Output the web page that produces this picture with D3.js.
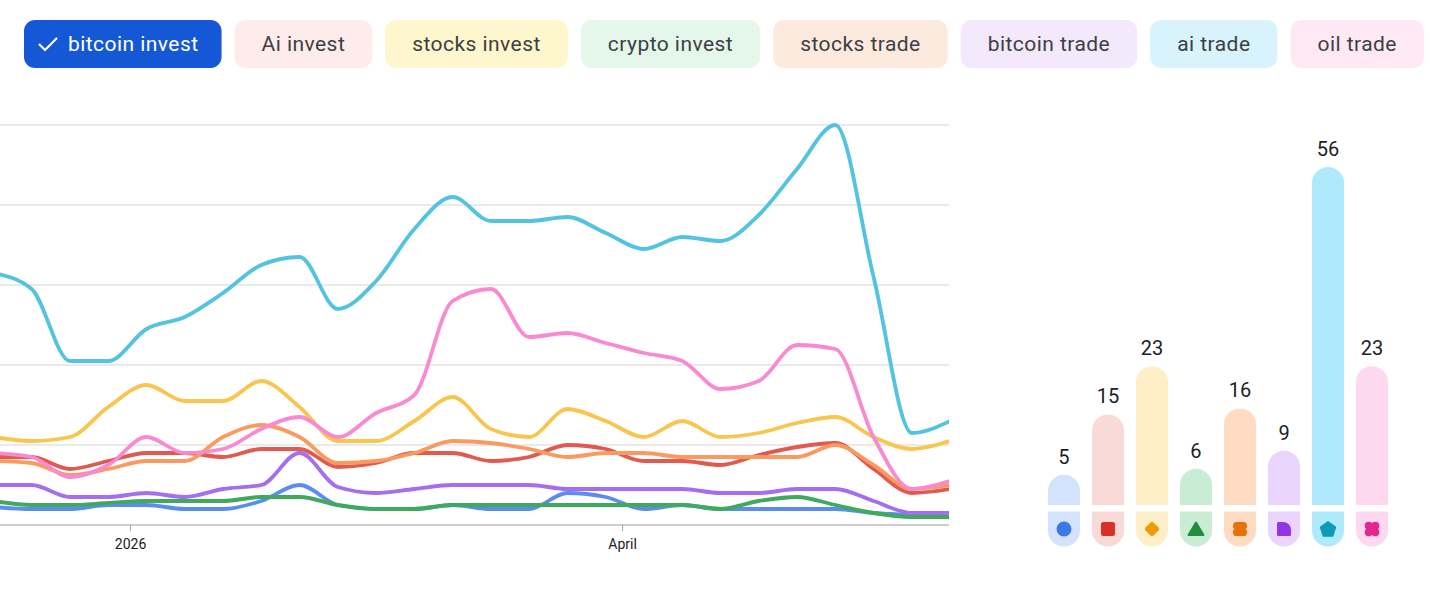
<!DOCTYPE html>
<html>
<head>
<meta charset="utf-8">
<script src="https://cdn.jsdelivr.net/npm/d3@7"></script>
<style>
  body { margin: 0; background: #fff; }
  svg { display: block; font-family: Roboto, "Noto Sans", sans-serif; }
</style>
</head>
<body>
<div id="chart"></div>
<script>
// Data
const terms = ["bitcoin invest", "Ai invest", "stocks invest", "crypto invest",
               "stocks trade", "bitcoin trade", "ai trade", "oil trade"];
const averages = [5, 15, 23, 6, 16, 9, 56, 23];

const weeks = ["2025-12-07", "2025-12-14", "2025-12-21", "2025-12-28", "2026-01-04",
               "2026-01-11", "2026-01-18", "2026-01-25", "2026-02-01", "2026-02-08",
               "2026-02-15", "2026-02-22", "2026-03-01", "2026-03-08", "2026-03-15",
               "2026-03-22", "2026-03-29", "2026-04-05", "2026-04-12", "2026-04-19",
               "2026-04-26", "2026-05-03", "2026-05-10", "2026-05-17", "2026-05-24",
               "2026-05-31"];

const bitcoinInvest = [4.5, 4, 4, 5, 5, 4, 4, 6, 10, 5, 4, 4, 5, 4, 4, 8, 7, 4, 5, 4, 4, 4, 4, 3, 2.5, 2];
const aiInvest      = [17, 17, 14, 16, 18, 18, 17, 19, 19, 14.5, 15.5, 18, 18, 16, 17, 20, 19, 16, 16, 15, 17.5, 19.5, 20.5, 14, 8, 9];
const stocksInvest  = [22, 21, 22, 29.5, 35, 31, 31, 36, 29.5, 21, 21, 26, 32, 24, 22, 29, 26, 22, 26, 22, 23, 25.5, 27, 22, 19, 21];
const cryptoInvest  = [6, 5, 5, 5.5, 6, 6, 6, 7, 7, 5, 4, 4, 5, 5, 5, 5, 5, 5, 5, 4, 6, 7, 5, 3, 2, 2];
const stocksTrade   = [16, 15.5, 12.5, 14, 16, 16, 22, 25, 22, 15.5, 16, 18, 21, 20.5, 19, 17, 18, 18, 17, 17, 17, 17, 20, 15, 9, 10];
const bitcoinTrade  = [10, 10, 7, 7, 8, 7, 9, 10, 18, 9.5, 8, 9, 10, 10, 10, 9, 9, 9, 9, 8, 8, 9, 9, 6, 3, 3];
const aiTrade       = [63, 59, 41, 41, 49, 52, 58, 65, 67, 54, 61, 74, 82, 76, 76, 77, 73, 69, 72, 71, 77.5, 89, 100, 62, 23, 26];
const oilTrade      = [18, 17, 12, 15, 22, 18, 19, 24, 27, 22, 28, 32.5, 56, 59, 47, 48, 45.5, 43, 41, 34, 36, 45, 44, 22, 9, 11];

const tickDates = ["2026-01-01", "2026-04-01"];
const tickLabels = ["2026", "April"];

// Styles
const lineColors = ["#5b8def", "#e25a4f", "#f9c54c", "#3fa95c", "#fb9a5e", "#a56df0", "#53c3e0", "#f98ad2"];
const paleColors = ["#d3e3fd", "#fadad7", "#feefc9", "#c9ecd4", "#fedbc3", "#e9d5fd", "#aeeafb", "#fdd8ee"];
const iconColors = ["#3b78e7", "#d93025", "#f29900", "#1e8e3e", "#e8710a", "#9334e6", "#0d9bb5", "#e52592"];
const chipColors = ["#1558d6", "#fdeceb", "#fef6cc", "#e5f7eb", "#fdeadf", "#f4e8fd", "#d8f3fc", "#fde8f4"];

const WIDTH = 1456, HEIGHT = 589;
const PLOT = {left: 0, right: 949, top: 125, bottom: 525};

const svg = d3.select("#chart").append("svg")
    .attr("width", WIDTH)
    .attr("height", HEIGHT);

const parse = d3.timeParse("%Y-%m-%d");
const series = [bitcoinInvest, aiInvest, stocksInvest, cryptoInvest,
                stocksTrade, bitcoinTrade, aiTrade, oilTrade];

// Chips
let chipX = 24;
terms.forEach((t, i) => {
    const g = svg.append("g");
    const rect = g.append("rect")
        .attr("y", 20).attr("height", 48)
        .attr("rx", 11)
        .attr("fill", chipColors[i]);
    const selected = i === 0;
    const textX = selected ? chipX + 44 : chipX + 27;
    const label = g.append("text")
        .attr("x", textX).attr("y", 51)
        .attr("font-size", 21)
        .attr("letter-spacing", 0.45)
        .attr("fill", selected ? "#fff" : "#3c4043")
        .text(t);
    const w = label.node().getComputedTextLength();
    const chipW = (textX - chipX) + w + (selected ? 23 : 27);
    rect.attr("x", chipX).attr("width", chipW);
    if (selected) {
        g.append("path")
            .attr("d", `M${chipX + 15},${44} l6,6 l12,-12`)
            .attr("fill", "none")
            .attr("stroke", "#fff")
            .attr("stroke-width", 2.2);
    }
    chipX += chipW + 13;
});

// Line chart
const X = d3.scaleTime()
    .domain([parse(weeks[0]), parse(weeks[weeks.length - 1])])
    .range([-6.6, 950.1]);
const Y = d3.scaleLinear().domain([0, 100]).range([PLOT.bottom, PLOT.top]);

svg.append("g").selectAll("line")
    .data([20, 40, 60, 80, 100])
    .enter().append("line")
      .attr("x1", PLOT.left).attr("x2", PLOT.right)
      .attr("y1", d => Y(d)).attr("y2", d => Y(d))
      .attr("stroke", "#e3e3e3")
      .attr("stroke-width", 1.3);

svg.append("defs").append("clipPath").attr("id", "plotclip")
    .append("rect")
      .attr("x", PLOT.left).attr("y", 0)
      .attr("width", PLOT.right - PLOT.left).attr("height", HEIGHT);

const line = d3.line()
    .x((d, i) => X(parse(weeks[i])))
    .y(d => Y(d))
    .curve(d3.curveMonotoneX);

svg.append("g").attr("clip-path", "url(#plotclip)")
  .selectAll("path")
  .data(series)
  .enter().append("path")
    .attr("d", d => line(d))
    .attr("fill", "none")
    .attr("stroke", (d, i) => lineColors[i])
    .attr("stroke-width", 3.8)
    .attr("stroke-linejoin", "round");

const xAxis = svg.append("g")
    .attr("transform", `translate(0,${PLOT.bottom})`)
    .call(d3.axisBottom(X)
        .tickValues(tickDates.map(parse))
        .tickFormat((d, i) => tickLabels[i])
        .tickSize(6)
        .tickPadding(8));
xAxis.select(".domain").remove();
xAxis.selectAll(".tick line").attr("stroke", "#9aa0a6");
xAxis.selectAll(".tick text")
    .attr("font-size", 14)
    .attr("font-family", "Roboto, sans-serif")
    .attr("fill", "#202124");
svg.append("line")
    .attr("x1", PLOT.left).attr("x2", PLOT.right)
    .attr("y1", PLOT.bottom).attr("y2", PLOT.bottom)
    .attr("stroke", "#9aa0a6").attr("stroke-width", 1.2);

// Bar chart of averages
const BX = d3.scaleBand()
    .domain(terms)
    .range([1042, 1394])
    .paddingInner(0.273)
    .paddingOuter(0.136);
const BY = d3.scaleLinear().domain([0, 56]).range([505, 167]);
const bw = BX.bandwidth();
const r = bw / 2;

const bars = svg.append("g").selectAll("g")
    .data(terms)
    .enter().append("g");

bars.append("path")
    .attr("d", (t, i) => {
        const x0 = BX(t), top = BY(averages[i]), bot = BY(0);
        return `M${x0},${bot} L${x0},${top + r} A${r},${r} 0 0 1 ${x0 + bw},${top + r} L${x0 + bw},${bot} Z`;
    })
    .attr("fill", (t, i) => paleColors[i]);

bars.append("path")
    .attr("d", t => {
        const x0 = BX(t), top = BY(0) + 6.5, h = 35;
        return `M${x0},${top} L${x0 + bw},${top} L${x0 + bw},${top + h - r} A${r},${r} 0 0 1 ${x0},${top + h - r} Z`;
    })
    .attr("fill", (t, i) => paleColors[i]);

bars.append("text")
    .attr("x", t => BX(t) + r)
    .attr("y", (t, i) => BY(averages[i]) - 11)
    .attr("text-anchor", "middle")
    .attr("font-size", 20)
    .attr("fill", "#202124")
    .text((t, i) => averages[i]);

// Icons
const icons = [
    g => g.append("circle").attr("r", 7.5),
    g => g.append("rect").attr("x", -7).attr("y", -7).attr("width", 14).attr("height", 14).attr("rx", 2.5),
    g => g.append("rect").attr("x", -5.6).attr("y", -5.6).attr("width", 11.2).attr("height", 11.2).attr("rx", 2).attr("transform", "rotate(45)"),
    g => g.append("path").attr("d", "M0,-6.5 L7.5,6 L-7.5,6 Z").attr("stroke-width", 2).attr("stroke-linejoin", "round"),
    g => { g.append("rect").attr("x", -7).attr("y", -7).attr("width", 14).attr("height", 7.6).attr("rx", 3.6);
           g.append("rect").attr("x", -7).attr("y", -0.6).attr("width", 14).attr("height", 7.6).attr("rx", 3.6); },
    g => g.append("path").attr("d", "M-7,-5.5 Q-7,-7 -5.5,-7 L-1,-7 A8,8 0 0 1 7,1 L7,5.5 Q7,7 5.5,7 L-5.5,7 Q-7,7 -7,5.5 Z"),
    g => {
        const pts = d3.range(5).map(k => {
            const a = -Math.PI / 2 + k * 2 * Math.PI / 5;
            return [7.8 * Math.cos(a), 7.8 * Math.sin(a) + 0.6];
        });
        g.append("path").attr("d", "M" + pts.join("L") + "Z")
            .attr("stroke-width", 1.6).attr("stroke-linejoin", "round");
    },
    g => { [[-3.3, -3.3], [3.3, -3.3], [-3.3, 3.3], [3.3, 3.3]].forEach(p =>
               g.append("circle").attr("cx", p[0]).attr("cy", p[1]).attr("r", 4));
           g.append("rect").attr("x", -4).attr("y", -4).attr("width", 8).attr("height", 8); }
];

bars.each(function(t, i) {
    const g = d3.select(this).append("g")
        .attr("transform", `translate(${BX(t) + r},${BY(0) + 24})`)
        .attr("fill", iconColors[i])
        .attr("stroke", iconColors[i])
        .attr("stroke-width", 0);
    icons[i](g);
});
</script>
</body>
</html>
